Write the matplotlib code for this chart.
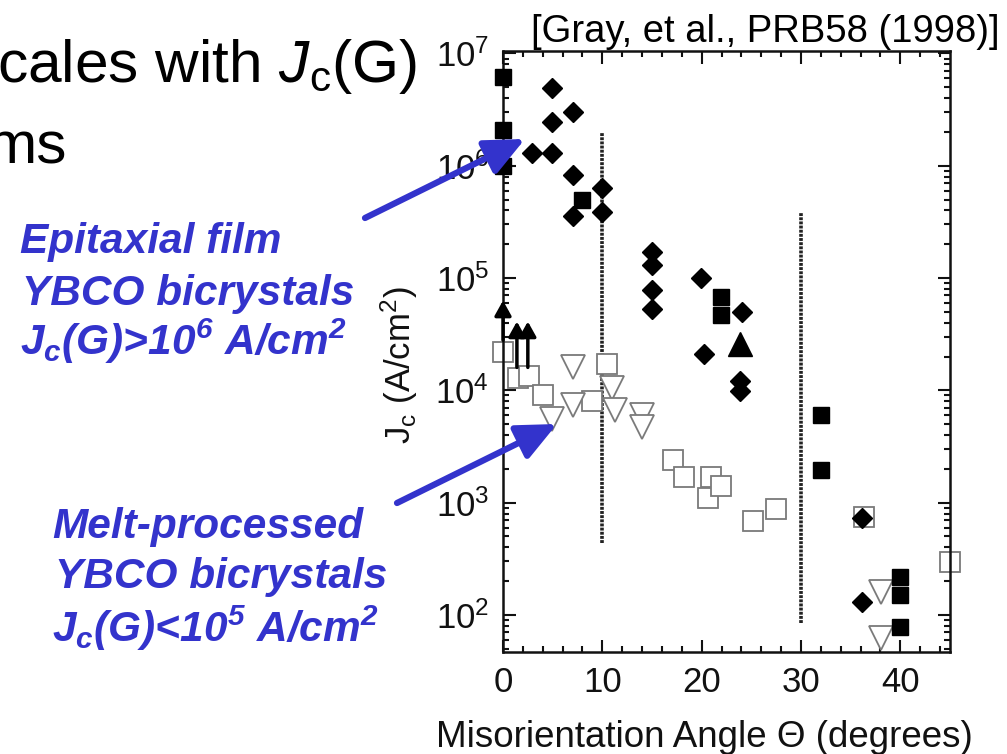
import matplotlib
matplotlib.use("Agg")
import matplotlib.pyplot as plt
from matplotlib.ticker import MultipleLocator, LogLocator, NullFormatter

plt.rcParams['font.family'] = ['Liberation Sans', 'DejaVu Sans']
plt.rcParams['mathtext.fontset'] = 'custom'
plt.rcParams['mathtext.rm'] = 'Liberation Sans'
plt.rcParams['mathtext.it'] = 'Liberation Sans:italic'
plt.rcParams['mathtext.bf'] = 'Liberation Sans:bold'
plt.rcParams['mathtext.bfit'] = 'Liberation Sans:italic:bold'

# --- data (angle in degrees, Jc in A/cm^2) ---
film_sq_x = [0, 0, 0, 8.0, 21.9, 21.9, 32.0, 32.0, 40.0, 40.0, 40.0]
film_sq_y = [6.2e6, 2.1e6, 1.0e6, 5.0e5, 6.8e4, 4.7e4, 6.0e3, 1.95e3, 220, 150, 78]

film_dia_x = [4.9, 4.9, 7.0, 2.9, 4.9, 7.0, 10.0, 7.0, 10.0, 15.0, 15.0, 15.0, 15.0,
              19.9, 24.1, 20.2, 23.9, 23.9, 36.1, 36.1]
film_dia_y = [4.9e6, 2.46e6, 3.0e6, 1.3e6, 1.3e6, 8.3e5, 6.3e5, 3.6e5, 3.9e5, 1.7e5,
              1.3e5, 7.8e4, 5.3e4, 1.0e5, 5.0e4, 2.1e4, 1.2e4, 9.8e3, 730, 130]

film_tri_x = [23.9]
film_tri_y = [2.6e4]

# lower-limit arrows
limit_x = [0, 1.4, 2.5]
limit_from = [2.8e4, 1.6e4, 1.6e4]
limit_to = [6.3e4, 4.1e4, 4.1e4]

melt_sq_x = [0, 1.5, 2.6, 4.0, 9.0, 10.5, 17.1, 18.2, 20.9, 20.6, 21.9, 25.2, 27.5, 36.3, 45.0]
melt_sq_y = [2.2e4, 1.3e4, 1.35e4, 9.0e3, 8.1e3, 1.7e4, 2.4e3, 1.7e3, 1.7e3, 1.1e3,
             1.4e3, 680, 870, 750, 295]

melt_tri_x = [7.0, 7.0, 4.9, 11.0, 11.3, 14.0, 14.0, 38.1, 38.1]
melt_tri_y = [1.6e4, 7.4e3, 5.6e3, 1.05e4, 6.7e3, 6.0e3, 4.7e3, 160, 63]

# dotted vertical guide lines
vline_x = [10, 30]
vline_lo = [437, 85]
vline_hi = [1.95e6, 3.8e5]

W, H = 1007, 754
fig = plt.figure(figsize=(W / 100, H / 100), dpi=100)


def px(x, y):
    # slide pixel position -> figure fraction
    return x / W, 1 - y / H


ax = fig.add_axes([503 / W, 1 - 652 / H, (950 - 503) / W, (652 - 51) / H])
ax.set_yscale('log')
ax.set_xlim(0, 45)
ax.set_ylim(46.8, 1.05e7)

for x, lo, hi in zip(vline_x, vline_lo, vline_hi):
    ax.plot([x, x], [lo, hi], color='#222222', lw=2.6, linestyle=(0, (0.8, 0.35)), zorder=1)

ax.plot(melt_sq_x, melt_sq_y, 's', ms=14, mfc='white', mec='#7a7a7a', mew=1.3,
        linestyle='none', clip_on=False, zorder=2)
ax.plot(melt_tri_x, melt_tri_y, 'v', ms=17, mfc='white', mec='#7a7a7a', mew=1.3,
        linestyle='none', zorder=2)
ax.plot(film_sq_x, film_sq_y, 's', ms=11, color='black', linestyle='none',
        clip_on=False, zorder=3)
ax.plot(film_dia_x, film_dia_y, 'D', ms=10, color='black', linestyle='none', zorder=3)
ax.plot(film_tri_x, film_tri_y, '^', ms=17, color='black', linestyle='none', zorder=3)
for x, lo, hi in zip(limit_x, limit_from, limit_to):
    ax.annotate('', xy=(x, hi), xytext=(x, lo), annotation_clip=False,
                arrowprops=dict(arrowstyle='-|>,head_length=0.9,head_width=0.5',
                                color='black', lw=2.5, shrinkA=0, shrinkB=0))

ax.xaxis.set_major_locator(MultipleLocator(10))
ax.xaxis.set_minor_locator(MultipleLocator(2))
ax.yaxis.set_major_locator(LogLocator(base=10, numticks=10))
ax.yaxis.set_minor_locator(LogLocator(base=10, subs=range(2, 10), numticks=20))
ax.yaxis.set_minor_formatter(NullFormatter())
ax.tick_params(which='both', direction='in', top=True, right=True, width=1.5, colors='#111111')
ax.tick_params(which='major', length=9, labelsize=25, pad=10)
ax.tick_params(which='minor', length=4.5)
for s in ax.spines.values():
    s.set_linewidth(1.8)
    s.set_color('#111111')

fig.text(*px(973, 747), 'Misorientation Angle \u0398 (degrees)', fontsize=26.5,
         ha='right', va='baseline', color='#111111')
fig.text(*px(399, 365), r'J$_{\mathrm{c}}$ (A/cm$^{2}$)', fontsize=25, rotation=90,
         ha='center', va='center', color='#111111')
fig.text(*px(1000, 42), '[Gray, et al., PRB58 (1998)]', fontsize=27.5, ha='right', va='baseline')

# slide text, cut off at the left edge as on the slide
fig.text(*px(-3, 82), r'cales with $J_{\mathrm{c}}$(G)', fontsize=43.5, ha='left', va='baseline')
fig.text(*px(-14, 163), 'ms', fontsize=43.5, ha='left', va='baseline')

blue = '#3333cc'
note_kw = dict(fontsize=30.5, color=blue, fontweight='bold', style='italic',
               ha='left', va='baseline')
fig.text(*px(20, 253), 'Epitaxial film', **note_kw)
fig.text(*px(22, 305), 'YBCO bicrystals', **note_kw)
fig.text(*px(20, 355), r'J$_{\mathbfit{c}}$(G)>10$^{\mathbfit{6}}$ A/cm$^{\mathbfit{2}}$', **note_kw)
fig.text(*px(52, 538), 'Melt-processed', **note_kw)
fig.text(*px(55, 588), 'YBCO bicrystals', **note_kw)
fig.text(*px(52, 642), r'J$_{\mathbfit{c}}$(G)<10$^{\mathbfit{5}}$ A/cm$^{\mathbfit{2}}$', **note_kw)

arrow_kw = dict(arrowstyle='-|>,head_length=2.4,head_width=1.1', color=blue, lw=4.5,
                shrinkA=0, shrinkB=0)
fig.add_artist(matplotlib.patches.FancyArrowPatch(px(365, 218), px(525, 139),
               transform=fig.transFigure, mutation_scale=10, **arrow_kw))
fig.add_artist(matplotlib.patches.FancyArrowPatch(px(397, 503), px(557, 424),
               transform=fig.transFigure, mutation_scale=10, **arrow_kw))

fig.savefig('out.png', dpi=100)
